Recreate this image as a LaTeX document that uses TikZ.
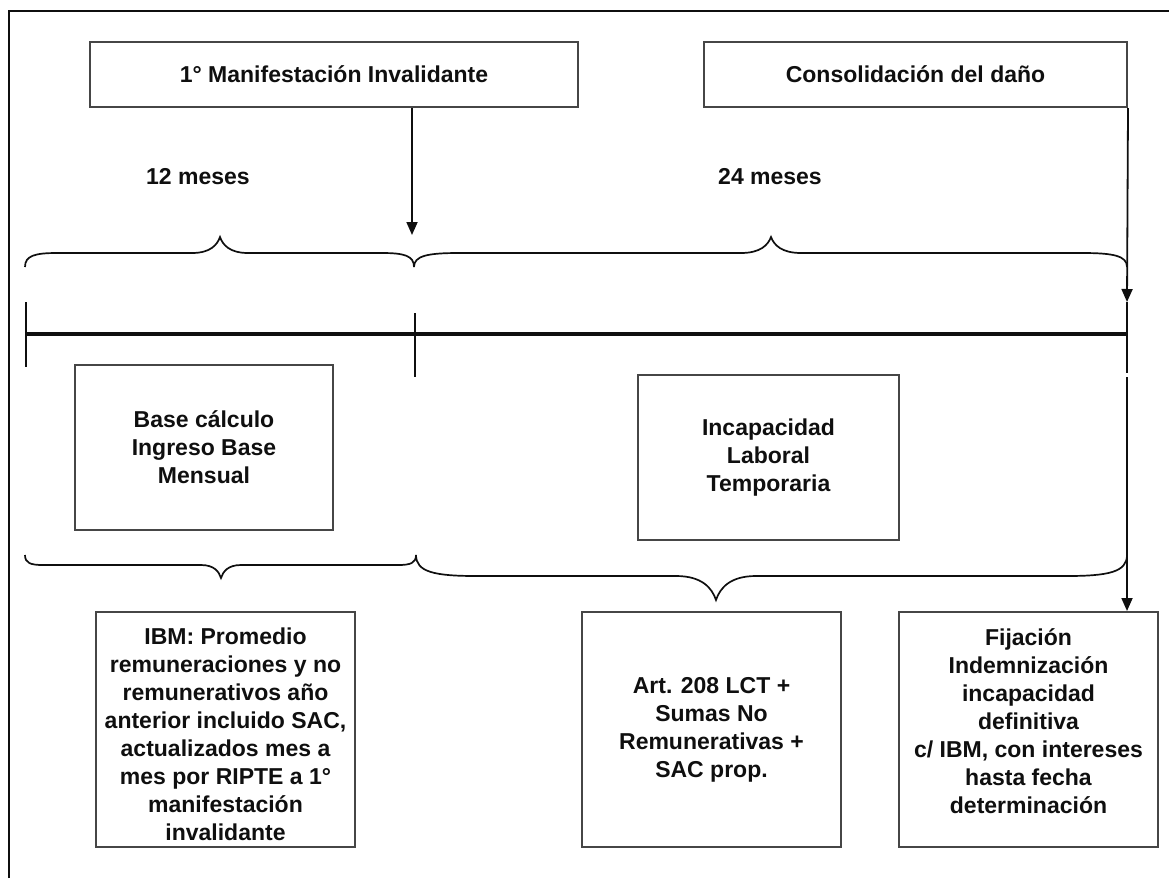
\documentclass[tikz,border=0pt]{standalone}
\usepackage{fontspec}
\setmainfont{Liberation Sans}
\usepackage{tikz}
\usetikzlibrary{arrows.meta,positioning,calc}

\definecolor{boxgray}{RGB}{70,70,70}
\definecolor{inkblack}{RGB}{15,15,15}

% x from, x to, x tip, y ends, y flat, y tip, end curl, tip curl
\newcommand{\wordbrace}[8]{%
  \draw[brace] (#1,#4) .. controls (#1,{#4+0.8*(#5-#4)}) and ({#1+0.3*#7},#5) .. ({#1+#7},#5)
    -- ({#3-#8},#5) .. controls ({#3-0.35*#8},#5) and ({#3-0.1*#8},{#5+0.5*(#6-#5)}) .. (#3,#6)
    .. controls ({#3+0.1*#8},{#5+0.5*(#6-#5)}) and ({#3+0.35*#8},#5) .. ({#3+#8},#5)
    -- ({#2-#7},#5) .. controls ({#2-0.3*#7},#5) and (#2,{#4+0.8*(#5-#4)}) .. (#2,#4);}

\begin{document}
\begin{tikzpicture}[x=1pt,y=-1pt,
    txt/.style={font=\fontsize{23}{28}\selectfont\bfseries, text=inkblack},
    tbox/.style={txt, draw=boxgray, line width=2pt, align=center, inner sep=0pt},
    lbl/.style={txt, align=center, inner sep=0pt},
    arr/.style={draw=inkblack, line width=1.8pt, -{Triangle[length=13pt,width=11pt]}},
    stem/.style={draw=inkblack, line width=2.2pt},
    axis/.style={draw=inkblack, line width=4pt},
    brace/.style={draw=inkblack, line width=1.7pt},
    frame/.style={draw=inkblack, line width=2pt}]
  \useasboundingbox (0,0) rectangle (1169,878);
  \draw[frame] (9,878) -- (9,11) -- (1169,11);

  \node[tbox, minimum width=488, minimum height=65] (onset) at (334,74.5) {1° Manifestación Invalidante};
  \node[tbox, minimum width=423, minimum height=65] (consol) at (915.5,74.5) {Consolidación del daño};
  \node[lbl] (twelve) at (198,177) {12 meses};
  \node[lbl] (twentyfour) at (770,177) {24 meses};

  \coordinate (t0) at (26,334);
  \coordinate (t1) at (415,334);
  \coordinate (t2) at (1127,334);
  \coordinate (onsetmark) at (412,235);
  \coordinate (consolmark) at (1127,302);

  \draw[arr] (onset.south -| onsetmark) -- (onsetmark);
  \draw[arr] (consol.south east) -- (consolmark);

  \wordbrace{25}{414}{220}{267}{253}{237}{32}{28}
  \wordbrace{414}{1127}{771}{267}{253}{237}{45}{30}

  \draw[axis] (t0) -- (t2);
  \draw[stem] (26,302) -- (26,367);
  \draw[stem] (415,313) -- (415,377);
  \draw[stem] (consolmark) -- (1127,373);

  \node[tbox, minimum width=258, minimum height=165] (base) at (204,447.5) {Base cálculo\\Ingreso Base\\Mensual};
  \node[tbox, minimum width=261, minimum height=165] (itl) at (768.5,457.5) {Incapacidad\\Laboral\\Temporaria};

  \wordbrace{25}{416}{221}{555}{565}{578}{18}{20}
  \wordbrace{416}{1127}{716}{555}{576}{600}{60}{40}

  \node[tbox, minimum width=259, minimum height=235] (ibmbox) at (225.5,729.5) {};
  \node[lbl, anchor=north] (ibm) at ([yshift=-17pt]ibmbox.north) {IBM: Promedio\\remuneraciones y no\\remunerativos año\\anterior incluido SAC,\\actualizados mes a\\mes por RIPTE a 1°\\manifestación\\invalidante};
  \node[tbox, minimum width=259, minimum height=235] (art) at (711.5,729.5) {Art. 208 LCT +\\Sumas No\\Remunerativas +\\SAC prop.};
  \node[tbox, minimum width=259, minimum height=235] (fixbox) at (1028.5,729.5) {};
  \node[lbl, anchor=north] (fix) at ([yshift=-17pt]fixbox.north) {Fijación\\Indemnización\\incapacidad\\definitiva\\c/ IBM, con intereses\\hasta fecha\\determinación};

  \draw[arr] (1127,377) -- (fixbox.north -| t2);
\end{tikzpicture}
\end{document}
